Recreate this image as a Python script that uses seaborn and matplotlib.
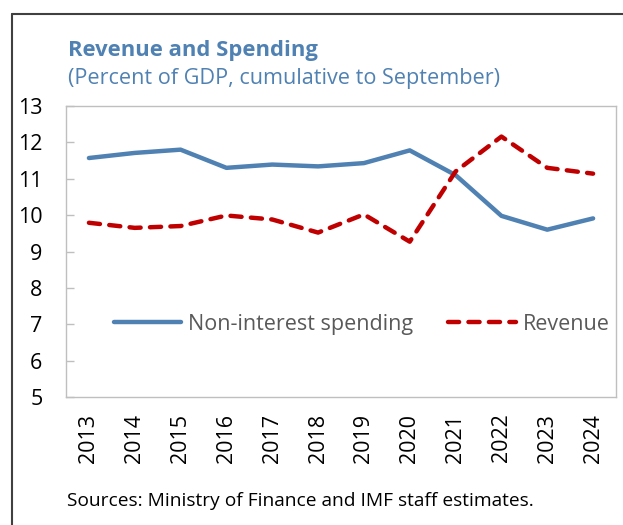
import numpy as np
import pandas as pd
import matplotlib
matplotlib.use("Agg")
import matplotlib.pyplot as plt
from matplotlib.lines import Line2D
import seaborn as sns

years = [2013, 2014, 2015, 2016, 2017, 2018, 2019, 2020, 2021, 2022, 2023, 2024]
spending = [11.57, 11.71, 11.80, 11.30, 11.39, 11.34, 11.43, 11.78, 11.10, 9.98, 9.60, 9.91]
revenue = [9.79, 9.65, 9.70, 9.99, 9.88, 9.52, 10.02, 9.27, 11.20, 12.16, 11.30, 11.14]
series_names = ["Non-interest spending", "Revenue"]
title = "Revenue and Spending"
subtitle = "(Percent of GDP, cumulative to September)"
source = "Sources: Ministry of Finance and IMF staff estimates."

sns.set_theme(style="white")
FONT = "Open Sans"
plt.rcParams["font.family"] = [FONT, "DejaVu Sans"]

BLUE = "#4F81B3"
RED = "#C00000"
GRAY = "#BFBFBF"
TICKFS = 15.5

fig = plt.figure(figsize=(6.23, 5.25), dpi=100)
ax = fig.add_axes([66 / 623, 1 - 397 / 525, 550 / 623, 291 / 525])

df_s = pd.DataFrame({"year": years, "value": spending})
df_r = pd.DataFrame({"year": years, "value": revenue})

sns.lineplot(data=df_s, x="year", y="value", ax=ax, color=BLUE, linewidth=3.2,
             label=series_names[0], solid_capstyle="round")
sns.lineplot(data=df_r, x="year", y="value", ax=ax, color=RED, linewidth=3.2,
             label=series_names[1], dashes=False)
ax.lines[1].set_dashes([2.5, 2.1])
ax.lines[1].set_dash_capstyle("round")

ax.set_xlim(years[0] - 0.5, years[-1] + 0.5)
ax.set_ylim(5, 13)
ax.set_yticks(range(5, 14))
ax.set_xticks(years)
ax.set_xticks([y + 0.5 for y in years[:-1]], minor=True)
ax.set_xticklabels([str(y) for y in years], rotation=90, fontsize=TICKFS, color="black")
ax.set_yticklabels([str(v) for v in range(5, 14)], fontsize=TICKFS, color="black")
ax.tick_params(axis="x", which="major", length=0, pad=12)
ax.tick_params(axis="x", which="minor", direction="in", length=6, color=GRAY, width=1)
ax.tick_params(axis="y", which="major", direction="in", length=6, color=GRAY, width=1,
               pad=17, left=True)
for s in ax.spines.values():
    s.set_color(GRAY)
    s.set_linewidth(1)
ax.set_xlabel("")
ax.set_ylabel("")
ax.grid(False)

leg = ax.legend(loc="center", bbox_to_anchor=((361.5 - 66) / 550, (7.0 - 5) / 8),
                ncol=2, frameon=False, fontsize=15.5, handlelength=3.15,
                handletextpad=0.32, columnspacing=1.6, borderaxespad=0)
for t in leg.get_texts():
    t.set_color("#595959")

fig.text(68 / 623, 1 - 56 / 525, title, fontsize=15.8, fontweight="bold", color=BLUE,
         ha="left", va="baseline")
fig.text(68 / 623, 1 - 84 / 525, subtitle, fontsize=15.6, color=BLUE,
         ha="left", va="baseline")
fig.text(67 / 623, 1 - 506 / 525, source, fontsize=13.8, color="black",
         ha="left", va="baseline")

fig.add_artist(Line2D([12 / 623, 12 / 623], [0, 1 - 14 / 525], transform=fig.transFigure,
                      color="#404040", linewidth=1.5))
fig.add_artist(Line2D([12 / 623, 1], [1 - 14 / 525, 1 - 14 / 525], transform=fig.transFigure,
                      color="#404040", linewidth=1.5))

fig.savefig("out.png", dpi=100)
